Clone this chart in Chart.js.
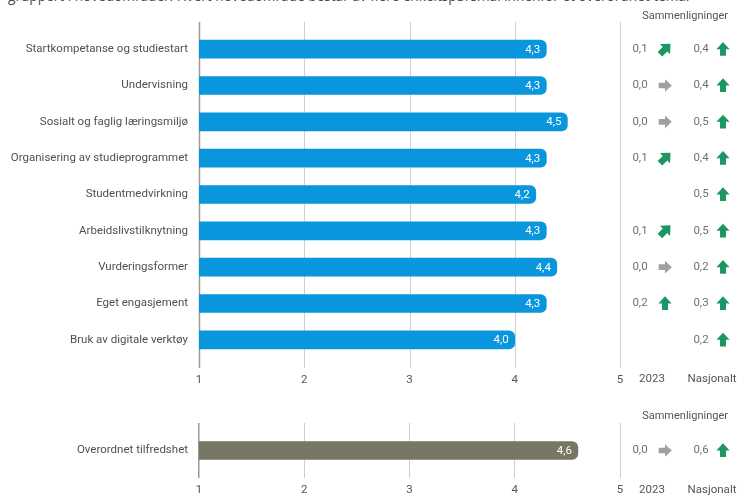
<!DOCTYPE html>
<html>
<head>
<meta charset="utf-8">
<script src="https://cdn.jsdelivr.net/npm/chart.js@4.4.0/dist/chart.umd.min.js"></script>
<style>
  html, body { margin:0; padding:0; background:#fff; width:737px; height:496px; overflow:hidden; font-family: Roboto, sans-serif; }
  #intro { position:absolute; left:8px; top:-12px; font-family:"Open Sans", sans-serif; font-size:13px; line-height:16px; color:#4a4a4a; white-space:nowrap; }
  #c1wrap { position:absolute; left:0; top:0; width:737px; height:400px; }
  #c2wrap { position:absolute; left:0; top:400px; width:737px; height:96px; }
</style>
</head>
<body>
<div id="intro">gruppert i hovedområder. Hvert hovedområde består av flere enkeltspørsmål innenfor et overordnet tema.</div>
<div id="c1wrap"><canvas id="c1"></canvas></div>
<div id="c2wrap"><canvas id="c2"></canvas></div>
<script>
// ---- data ----
const categories = [
  "Startkompetanse og studiestart",
  "Undervisning",
  "Sosialt og faglig læringsmiljø",
  "Organisering av studieprogrammet",
  "Studentmedvirkning",
  "Arbeidslivstilknytning",
  "Vurderingsformer",
  "Eget engasjement",
  "Bruk av digitale verktøy"
];
const values = [4.3, 4.3, 4.5, 4.3, 4.2, 4.3, 4.4, 4.3, 4.0];
const diff2023 = [0.1, 0.0, 0.0, 0.1, null, 0.1, 0.0, 0.2, null];
const diffNational = [0.4, 0.4, 0.5, 0.4, 0.5, 0.5, 0.2, 0.3, 0.2];

const overallCategories = ["Overordnet tilfredshet"];
const overallValues = [4.6];
const overallDiff2023 = [0.0];
const overallDiffNational = [0.6];

const xTicks = [1, 2, 3, 4, 5];
const compareTitle = "Sammenligninger";
const colLabels = ["2023", "Nasjonalt"];

// fit intro line width to the reference (layout only)
(function () {
  const el = document.getElementById('intro');
  const w = el.getBoundingClientRect().width;
  const target = 682;
  const fs = 13 * target / w;
  el.style.fontSize = fs.toFixed(2) + "px";
})();

// ---- styling ----
const FONT = "Roboto, sans-serif";
const BLUE = "#0a96dc";
const OLIVE = "#787664";
const GREEN = "#1e9664";
const GREYARROW = "#a0a0a0";
const fmt = v => v.toFixed(1).replace(".", ",");

function drawArrow(ctx, x, y, angle, color, s) {
  ctx.save();
  ctx.translate(x, y);
  ctx.rotate(angle);
  ctx.scale(s, s);
  ctx.fillStyle = color;
  ctx.beginPath();
  ctx.moveTo(-6, -2.7);
  ctx.lineTo(0, -2.7);
  ctx.lineTo(0, -6);
  ctx.lineTo(6.5, 0);
  ctx.lineTo(0, 6);
  ctx.lineTo(0, 2.7);
  ctx.lineTo(-6, 2.7);
  ctx.closePath();
  ctx.fill();
  ctx.restore();
}
function arrowFor(ctx, v, x, y) {
  if (v === null || v === undefined) return;
  if (v <= 0.0001) drawArrow(ctx, x, y, 0, GREYARROW, 1.05);
  else if (v < 0.15) drawArrow(ctx, x, y, -Math.PI / 4, GREEN, 1.2);
  else drawArrow(ctx, x, y, -Math.PI / 2, GREEN, 1.1);
}

function makePlugin(opts) {
  return {
    id: 'custom' + opts.key,
    beforeDatasetsDraw(chart) {
      if (!opts.ownGrid) return;
      const ctx = chart.ctx, xs = chart.scales.x;
      ctx.save();
      xTicks.forEach(t => {
        const px = Math.round(xs.getPixelForValue(t)) + 0.5;
        ctx.strokeStyle = t === 1 ? "#9a9a9a" : "#cfcfcf";
        ctx.lineWidth = t === 1 ? 1.5 : 1;
        ctx.beginPath();
        ctx.moveTo(px, opts.gridTop);
        ctx.lineTo(px, opts.gridBottom);
        ctx.stroke();
      });
      ctx.restore();
    },
    afterDatasetsDraw(chart) {
      const ctx = chart.ctx;
      const meta = chart.getDatasetMeta(0);
      const ys = chart.scales.y;
      ctx.save();
      ctx.textBaseline = "middle";
      meta.data.forEach((bar, i) => {
        ctx.font = "11.5px " + FONT;
        ctx.fillStyle = "#ffffff";
        ctx.textAlign = "right";
        ctx.fillText(fmt(opts.values[i]), bar.x - 6, bar.y + 0.5);
        const y = ys.getPixelForValue(i);
        ctx.fillStyle = "#707070";
        ctx.textAlign = "center";
        if (opts.d1[i] !== null) {
          ctx.fillText(fmt(opts.d1[i]), 640, y);
          arrowFor(ctx, opts.d1[i], 665, y);
        }
        if (opts.d2[i] !== null) {
          ctx.fillStyle = "#707070";
          ctx.fillText(fmt(opts.d2[i]), 701, y);
          arrowFor(ctx, opts.d2[i], 723, y);
        }
      });
      ctx.fillStyle = "#555";
      ctx.font = "11px " + FONT;
      ctx.textAlign = "right";
      ctx.fillText(compareTitle, 728, opts.titleY);
      ctx.font = "11.5px " + FONT;
      ctx.textAlign = "center";
      ctx.fillStyle = "#555";
      ctx.fillText(colLabels[0], 652, opts.footY);
      ctx.fillText(colLabels[1], 712, opts.footY);
      ctx.restore();
    }
  };
}

function makeChart(id, cats, vals, color, cfg) {
  return new Chart(document.getElementById(id), {
    type: 'bar',
    data: {
      labels: cats,
      datasets: [{
        data: vals,
        backgroundColor: color,
        borderRadius: 6,
        borderSkipped: 'start',
        barThickness: 18
      }]
    },
    options: {
      indexAxis: 'y',
      responsive: true,
      maintainAspectRatio: false,
      animation: false,
      layout: { padding: { top: cfg.padTop, right: 117, left: 0, bottom: 0 } },
      plugins: { legend: { display: false }, tooltip: { enabled: false } },
      scales: {
        x: {
          min: 1, max: 5,
          afterBuildTicks: s => { s.ticks = xTicks.map(v => ({ value: v })); },
          afterFit: s => { s.height = cfg.xHeight; },
          border: { display: false },
          grid: {
            display: !cfg.ownGrid,
            drawTicks: false,
            color: c => (c.tick && c.tick.value === 1) ? "#9a9a9a" : "#cfcfcf",
            lineWidth: c => (c.tick && c.tick.value === 1) ? 1.5 : 1
          },
          ticks: { padding: cfg.tickPad, color: "#555", font: { family: FONT, size: 11.5 }, maxRotation: 0 }
        },
        y: {
          afterFit: s => { s.width = 199; },
          border: { display: false },
          grid: { display: false, drawTicks: false },
          ticks: { padding: 11, color: "#505050", font: { family: FONT, size: 11.5 } }
        }
      }
    },
    plugins: [makePlugin(cfg)]
  });
}

makeChart('c1', categories, values, BLUE, {
  key: 'a', padTop: 31, xHeight: 42, tickPad: 15, ownGrid: true,
  gridTop: 22, gridBottom: 368,
  values: values, d1: diff2023, d2: diffNational,
  titleY: 16, footY: 379.5
});
makeChart('c2', overallCategories, overallValues, OLIVE, {
  key: 'b', padTop: 23, xHeight: 18, tickPad: 5, ownGrid: false,
  values: overallValues, d1: overallDiff2023, d2: overallDiffNational,
  titleY: 16, footY: 90
});
</script>
</body>
</html>
